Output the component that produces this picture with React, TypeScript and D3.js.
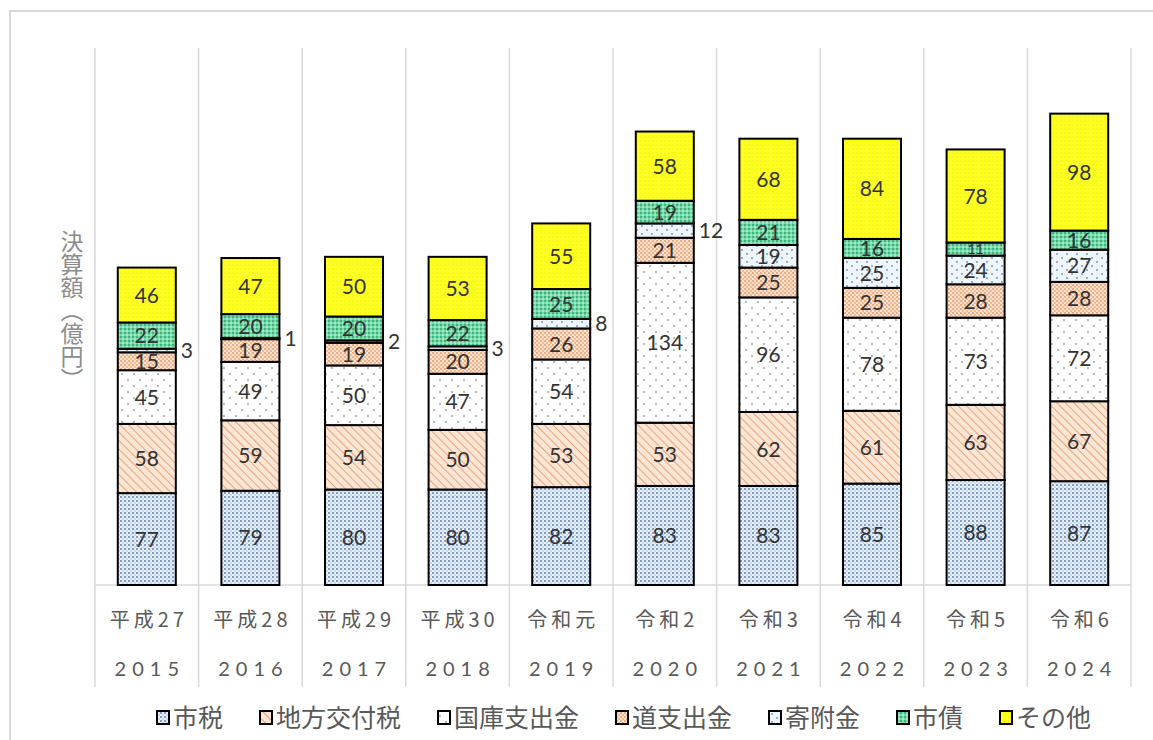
import React from 'react'
import * as d3 from 'd3'

const years = ['2015', '2016', '2017', '2018', '2019', '2020', '2021', '2022', '2023', '2024']
const eras = ['平成27', '平成28', '平成29', '平成30', '令和元', '令和2', '令和3', '令和4', '令和5', '令和6']
const seriesNames = ['市税', '地方交付税', '国庫支出金', '道支出金', '寄附金', '市債', 'その他']

const shizei = [77, 79, 80, 80, 82, 83, 83, 85, 88, 87]
const kofuzei = [58, 59, 54, 50, 53, 53, 62, 61, 63, 67]
const kokko = [45, 49, 50, 47, 54, 134, 96, 78, 73, 72]
const doShishutsu = [15, 19, 19, 20, 26, 21, 25, 25, 28, 28]
const kifu = [3, 1, 2, 3, 8, 12, 19, 25, 24, 27]
const shisai = [22, 20, 20, 22, 25, 19, 21, 16, 11, 16]
const sonota = [46, 47, 50, 53, 55, 58, 68, 84, 78, 98]

const seriesValues = [shizei, kofuzei, kokko, doShishutsu, kifu, shisai, sonota]

const W = 1153
const H = 740
const left = 95
const right = 1131
const top = 48
const base = 585

export default function App() {
  const rows = years.map((y, i) => {
    const r: any = { year: y }
    seriesNames.forEach((s, k) => { r[s] = seriesValues[k][i] })
    return r
  })
  const stacked = d3.stack().keys(seriesNames)(rows)

  const x = d3.scaleBand().domain(years).range([left, right]).paddingInner(0.44).paddingOuter(0.22)
  const y = d3.scaleLinear().domain([0, 450]).range([base, top])
  const step = x.step()

  const numFont = 'Lato, "Noto Sans CJK JP", sans-serif'
  const jpFont = '"Noto Sans CJK JP", sans-serif'

  // legend layout
  const legFs = 25
  let lx = 157
  const legend = seriesNames.map((s, k) => {
    const item = { name: s, k, x: lx }
    lx += 18 + s.length * legFs + 35
    return item
  })

  return (
    <svg width={W} height={H} style={{ position: 'absolute', left: 0, top: 0, background: '#fff' }}>
      <defs>
        <pattern id="p0" width="4" height="4" patternUnits="userSpaceOnUse">
          <rect width="4" height="4" fill="#e8f0f9" />
          <circle cx="1" cy="1" r="0.9" fill="#4f74b0" />
          <circle cx="3" cy="3" r="0.7" fill="#94aed6" />
        </pattern>
        <pattern id="p1" width="6" height="6" patternUnits="userSpaceOnUse" patternTransform="rotate(-45)">
          <rect width="6" height="6" fill="#fbe6d6" />
          <line x1="0" y1="0" x2="0" y2="6" stroke="#e49464" strokeWidth="1.6" />
        </pattern>
        <pattern id="p2" width="12" height="12" patternUnits="userSpaceOnUse">
          <rect width="12" height="12" fill="#fff" />
          <circle cx="2" cy="2" r="0.9" fill="#999" />
          <circle cx="8" cy="8" r="0.9" fill="#999" />
        </pattern>
        <pattern id="p3" width="4" height="4" patternUnits="userSpaceOnUse">
          <rect width="4" height="4" fill="#fde3cf" />
          <circle cx="1" cy="1" r="0.9" fill="#e69460" />
          <circle cx="3" cy="3" r="0.9" fill="#eca579" />
        </pattern>
        <pattern id="p4" width="10" height="8" patternUnits="userSpaceOnUse">
          <rect width="10" height="8" fill="#eef5fb" />
          <circle cx="2" cy="2" r="0.9" fill="#6f8fbf" />
          <circle cx="7" cy="6" r="0.9" fill="#6f8fbf" />
        </pattern>
        <pattern id="p5" width="4" height="4" patternUnits="userSpaceOnUse">
          <rect width="4" height="4" fill="#74dcaa" />
          <circle cx="1" cy="1" r="0.9" fill="#2f9a68" />
          <circle cx="3" cy="3" r="0.9" fill="#b5f0d2" />
        </pattern>
        <pattern id="p6" width="4" height="4" patternUnits="userSpaceOnUse">
          <rect width="4" height="4" fill="#ffff1c" />
          <circle cx="1" cy="1" r="0.7" fill="#e6e64a" />
        </pattern>
      </defs>

      <rect x={10} y={11} width={W + 10} height={H + 10} fill="#fff" stroke="#d9d9d9" strokeWidth={2} />

      {/* category grid lines */}
      {d3.range(years.length + 1).map(i => (
        <line key={'g' + i} x1={left + i * step} x2={left + i * step} y1={top} y2={687} stroke="#d9d9d9" strokeWidth={1.5} />
      ))}
      <line x1={left} x2={right} y1={base} y2={base} stroke="#d9d9d9" strokeWidth={1.5} />

      {/* bars */}
      {stacked.map((layer, k) => (
        <g key={layer.key}>
          {layer.map((d, i) => (
            <rect key={i} x={x(years[i])} y={y(d[1])} width={x.bandwidth()} height={y(d[0]) - y(d[1])}
              fill={`url(#p${k})`} stroke="#000" strokeWidth={2} />
          ))}
        </g>
      ))}

      {/* value labels */}
      {stacked.map((layer, k) => layer.map((d, i) => {
        const v = seriesValues[k][i]
        const cy = (y(d[0]) + y(d[1])) / 2
        const outside = k === 4 && v < 15
        const small = !outside && v < 15
        return (
          <text key={layer.key + i}
            x={outside ? (x(years[i]) as number) + x.bandwidth() + 5 : (x(years[i]) as number) + x.bandwidth() / 2}
            y={cy} dy="0.36em" textAnchor={outside ? 'start' : 'middle'}
            fontFamily={numFont} fontSize={small ? 14 : 21} fill="#333">{v}</text>
        )
      }))}

      {/* category labels */}
      {years.map((yr, i) => (
        <g key={'c' + yr}>
          <text x={(x(yr) as number) + x.bandwidth() / 2 + 2} y={620} dy="0.35em" textAnchor="middle"
            fontFamily={jpFont} fontSize={20} fill="#595959" letterSpacing={4}>{eras[i]}</text>
          <text x={(x(yr) as number) + x.bandwidth() / 2 + 3} y={669} dy="0.35em" textAnchor="middle"
            fontFamily={numFont} fontSize={20} fill="#595959" letterSpacing={6}>{yr}</text>
        </g>
      ))}

      {/* y axis title */}
      <text x={72} y={310} textAnchor="middle" fontFamily={jpFont} fontSize={23} fill="#8c8c8c"
        style={{ writingMode: 'vertical-rl' }}>決算額（億円）</text>

      {/* legend */}
      {legend.map(l => (
        <g key={l.name}>
          <rect x={l.x} y={711} width={12} height={13} fill={`url(#p${l.k})`} stroke="#000" strokeWidth={2} />
          <text x={l.x + 16} y={718} dy="0.36em" fontFamily={jpFont} fontSize={legFs} fill="#595959">{l.name}</text>
        </g>
      ))}
    </svg>
  )
}
